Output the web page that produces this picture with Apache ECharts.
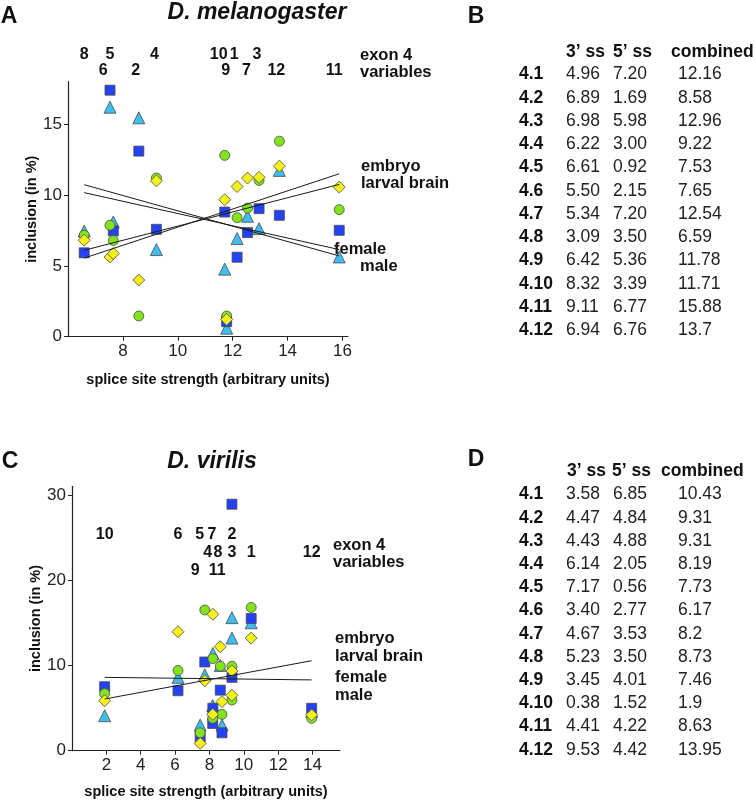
<!DOCTYPE html>
<html><head><meta charset="utf-8">
<script src="https://cdn.jsdelivr.net/npm/echarts@6/dist/echarts.min.js"></script>
<style>html,body{margin:0;padding:0;background:#fff}#c{width:756px;height:803px}</style>
</head><body><div id="c"></div>
<script>
// ---------- data ----------
const exonIds = ['4.1','4.2','4.3','4.4','4.5','4.6','4.7','4.8','4.9','4.10','4.11','4.12'];
const exonNums = ['1','2','3','4','5','6','7','8','9','10','11','12'];

// Panel B table (D. melanogaster)
const melSs3 = ['4.96','6.89','6.98','6.22','6.61','5.50','5.34','3.09','6.42','8.32','9.11','6.94'];
const melSs5 = ['7.20','1.69','5.98','3.00','0.92','2.15','7.20','3.50','5.36','3.39','6.77','6.76'];
const melCombined = ['12.16','8.58','12.96','9.22','7.53','7.65','12.54','6.59','11.78','11.71','15.88','13.7'];

// Panel D table (D. virilis)
const virSs3 = ['3.58','4.47','4.43','6.14','7.17','3.40','4.67','5.23','3.45','0.38','4.41','9.53'];
const virSs5 = ['6.85','4.84','4.88','2.05','0.56','2.77','3.53','3.50','4.01','1.52','4.22','4.42'];
const virCombined = ['10.43','9.31','9.31','8.19','7.73','6.17','8.2','8.73','7.46','1.9','8.63','13.95'];

// Inclusion (%) per exon 4.1 .. 4.12 — D. melanogaster
const melEmbryo = [8.4, 1.46, 11.03, 11.2, 7.87, 6.79, 9.08, 7.16, 1.46, 12.8, 8.97, 13.8];
const melLarval = [10.6, 4.0, 11.25, 11.0, 5.63, 5.87, 11.2, 6.81, 1.22, 9.67, 10.56, 12.04];
const melFemale = [5.61, 13.1, 9.04, 7.58, 17.4, 7.47, 7.35, 5.92, 1.06, 8.8, 7.51, 8.57];
const melMale   = [6.93, 15.45, 7.63, 6.15, 16.2, 8.1, 8.5, 7.46, 0.6, 4.77, 5.63, 11.74];

// Inclusion (%) per exon 4.1 .. 4.12 — D. virilis
const virEmbryo = [16.8, 9.9, 5.94, 3.8, 16.5, 9.4, 10.8, 4.26, 2.1, 6.7, 9.9, 3.8];
const virLarval = [13.2, 9.35, 6.5, 4.26, 8.2, 13.95, 16.0, 5.75, 0.86, 5.86, 12.2, 4.2];
const virFemale = [15.5, 28.9, 8.6, 3.2, 10.4, 7.03, 4.97, 2.1, 1.6, 7.5, 7.1, 4.97];
const virMale   = [15.0, 15.6, 13.2, 5.3, 8.9, 8.6, 11.4, 3.0, 3.0, 4.1, 10.0, 4.6];

// Regression lines: values at the smallest and largest combined score
const melTrendX = [6.59, 15.88];
const melTrendEmbryo = [5.55, 11.5];
const melTrendLarval = [6.1, 10.75];
const melTrendFemale = [10.17, 6.15];
const melTrendMale   = [10.73, 5.7];
const virTrendX = [1.9, 13.95];
const virTrendEmbryoLarval = [6.06, 10.55];
const virTrendFemaleMale   = [8.6, 8.3];

// Tick labels
const melXTicks = [8, 10, 12, 14, 16];
const melYTicks = [0, 5, 10, 15];
const virXTicks = [2, 4, 6, 8, 10, 12, 14];
const virYTicks = [0, 10, 20, 30];

// ---------- layout / style (not data) ----------
const melLabelRow = [1,2,1,1,1,2,2,1,2,1,2,2];
const melLabelNudge = [-3,-3,-2,-2,0,-10,-1,0,-1,-6,-5,-3];
const virLabelRow = [2,1,2,2,1,1,1,2,3,1,3,2];
const virLabelNudge = [0,0,0,-5,-5,0,-1,-4,-5,0,-3,0];
const melRowY = {1: 54.5, 2: 71};
const virRowY = {1: 535, 2: 553, 3: 570.5};

const FONT = '"Liberation Sans", Arial, Helvetica, sans-serif';
const COL = {embryo:'#80e31c', larval:'#f4f01a', female:'#2442f5', male:'#3fbdee'};
const SYM = {embryo:['circle',10], larval:['diamond',12], female:['rect',10], male:['triangle',12]};

function pts(xs, ys){ return xs.map((x,i)=>[parseFloat(x), ys[i]]); }
function sc(name, key, xs, ys, gi){
  return {name, type:'scatter', xAxisIndex:gi, yAxisIndex:gi,
    symbol:SYM[key][0], symbolSize:SYM[key][1], data:pts(xs,ys),
    itemStyle:{color:COL[key], borderColor:'#4a4a4a', borderWidth:0.8, opacity:1},
    emphasis:{disabled:true}, z:2};
}
function ln(xs, ys, gi){
  return {type:'line', xAxisIndex:gi, yAxisIndex:gi, data:xs.map((x,i)=>[x,ys[i]]),
    symbol:'none', lineStyle:{color:'#1a1a1a', width:1}, z:5, silent:true};
}
const axisCommon = {
  axisLine:{show:true, onZero:false, lineStyle:{color:'#222', width:1.2}},
  axisTick:{show:true, length:4, lineStyle:{color:'#222'}},
  splitLine:{show:false},
  axisLabel:{color:'#222', fontSize:17, fontFamily:FONT, margin:6},
  nameTextStyle:{color:'#111', fontSize:14.5, fontWeight:'bold', fontFamily:FONT},
  nameLocation:'middle'
};
function ax(extra){ return Object.assign({}, JSON.parse(JSON.stringify(axisCommon)), extra); }

const chart = echarts.init(document.getElementById('c'), null, {renderer:'canvas'});
const option = {
  backgroundColor:'#fff',
  animation:false,
  grid:[
    {left:68, top:81.7, width:280, height:255},
    {left:72, top:486.3, width:268, height:264.4}
  ],
  xAxis:[
    ax({gridIndex:0, type:'value', min:6, max:16.2, interval:2,
      name:'splice site strength (arbitrary units)', nameGap:36,
      axisTick:{show:true, length:4, lineStyle:{color:'#222'}, customValues:melXTicks},
      axisLabel:{color:'#222', fontSize:17, fontFamily:FONT, margin:6, customValues:melXTicks}}),
    ax({gridIndex:1, type:'value', min:0, max:15.6, interval:2,
      name:'splice site strength (arbitrary units)', nameGap:34,
      axisTick:{show:true, length:4, lineStyle:{color:'#222'}, customValues:virXTicks},
      axisLabel:{color:'#222', fontSize:17, fontFamily:FONT, margin:6, customValues:virXTicks}})
  ],
  yAxis:[
    ax({gridIndex:0, type:'value', min:0, max:18, interval:5,
      name:'inclusion (in %)', nameGap:24,
      axisTick:{show:true, length:4, lineStyle:{color:'#222'}, customValues:melYTicks},
      axisLabel:{color:'#222', fontSize:17, fontFamily:FONT, margin:6, customValues:melYTicks}}),
    ax({gridIndex:1, type:'value', min:0, max:31, interval:10,
      name:'inclusion (in %)', nameGap:28,
      axisTick:{show:true, length:4, lineStyle:{color:'#222'}, customValues:virYTicks},
      axisLabel:{color:'#222', fontSize:17, fontFamily:FONT, margin:6, customValues:virYTicks}})
  ],
  series:[
    sc('male','male',melCombined,melMale,0),
    sc('female','female',melCombined,melFemale,0),
    sc('embryo','embryo',melCombined,melEmbryo,0),
    sc('larval brain','larval',melCombined,melLarval,0),
    ln(melTrendX, melTrendEmbryo, 0),
    ln(melTrendX, melTrendLarval, 0),
    ln(melTrendX, melTrendFemale, 0),
    ln(melTrendX, melTrendMale, 0),
    sc('male','male',virCombined,virMale,1),
    sc('female','female',virCombined,virFemale,1),
    sc('embryo','embryo',virCombined,virEmbryo,1),
    sc('larval brain','larval',virCombined,virLarval,1),
    ln(virTrendX, virTrendEmbryoLarval, 1),
    ln(virTrendX, virTrendFemaleMale, 1)
  ]
};
chart.setOption(option);

// ---------- texts ----------
const g = [];
function txt(x, y, s, o){
  o = o || {};
  g.push({type:'text', x, y, silent:true, z:10, style:{
    text:s, fill:o.fill||'#111', font:(o.style||'')+' '+(o.weight||'normal')+' '+(o.size||16)+'px '+FONT,
    textAlign:o.align||'left', textVerticalAlign:'middle'}});
}
// panel letters & titles
txt(9, 17, 'A', {weight:'bold', size:23, align:'center'});
txt(257, 13, 'D. melanogaster', {weight:'bold', style:'italic', size:23, align:'center'});
txt(10, 462, 'C', {weight:'bold', size:23, align:'center'});
txt(212, 462, 'D. virilis', {weight:'bold', style:'italic', size:23, align:'center'});
txt(476, 17, 'B', {weight:'bold', size:23, align:'center'});
txt(476, 460, 'D', {weight:'bold', size:23, align:'center'});

// exon number labels over the plots, x from the axis scale
exonNums.forEach((n,i)=>{
  const px = chart.convertToPixel({gridIndex:0}, [parseFloat(melCombined[i]), 0])[0];
  txt(px + melLabelNudge[i], melRowY[melLabelRow[i]], n, {weight:'bold', size:16, align:'center'});
  const px2 = chart.convertToPixel({gridIndex:1}, [parseFloat(virCombined[i]), 0])[0];
  txt(px2 + virLabelNudge[i], virRowY[virLabelRow[i]], n, {weight:'bold', size:16, align:'center'});
});

// side annotations
const sideA = [[360,55,'exon 4'],[360,72,'variables'],[361,166,'embryo'],[361,183,'larval brain'],[334,249,'female'],[360,266,'male']];
const sideC = [[333,545,'exon 4'],[333,562,'variables'],[335,638,'embryo'],[335,656,'larval brain'],[335,677,'female'],[335,695,'male']];
sideA.concat(sideC).forEach(s=>txt(s[0], s[1], s[2], {weight:'bold', size:16.5}));

// tables
function table(headY, row0, step, hx, ss3, ss5, comb){
  txt(hx[0], headY, '3\u2019 ss', {weight:'bold', size:17.5});
  txt(hx[1], headY, '5\u2019 ss', {weight:'bold', size:17.5});
  txt(hx[2], headY, 'combined', {weight:'bold', size:17.5});
  exonIds.forEach((id,i)=>{
    const y = row0 + i*step;
    txt(519, y, id, {weight:'bold', size:17.5});
    txt(566, y, ss3[i], {size:17.5, fill:'#222'});
    txt(613, y, ss5[i], {size:17.5, fill:'#222'});
    txt(678, y, comb[i], {size:17.5, fill:'#222'});
  });
}
table(52, 74.5, 23.27, [566, 613, 671], melSs3, melSs5, melCombined);
table(471, 494.5, 23.2, [567, 612, 661], virSs3, virSs5, virCombined);

chart.setOption({graphic:g});
</script></body></html>
